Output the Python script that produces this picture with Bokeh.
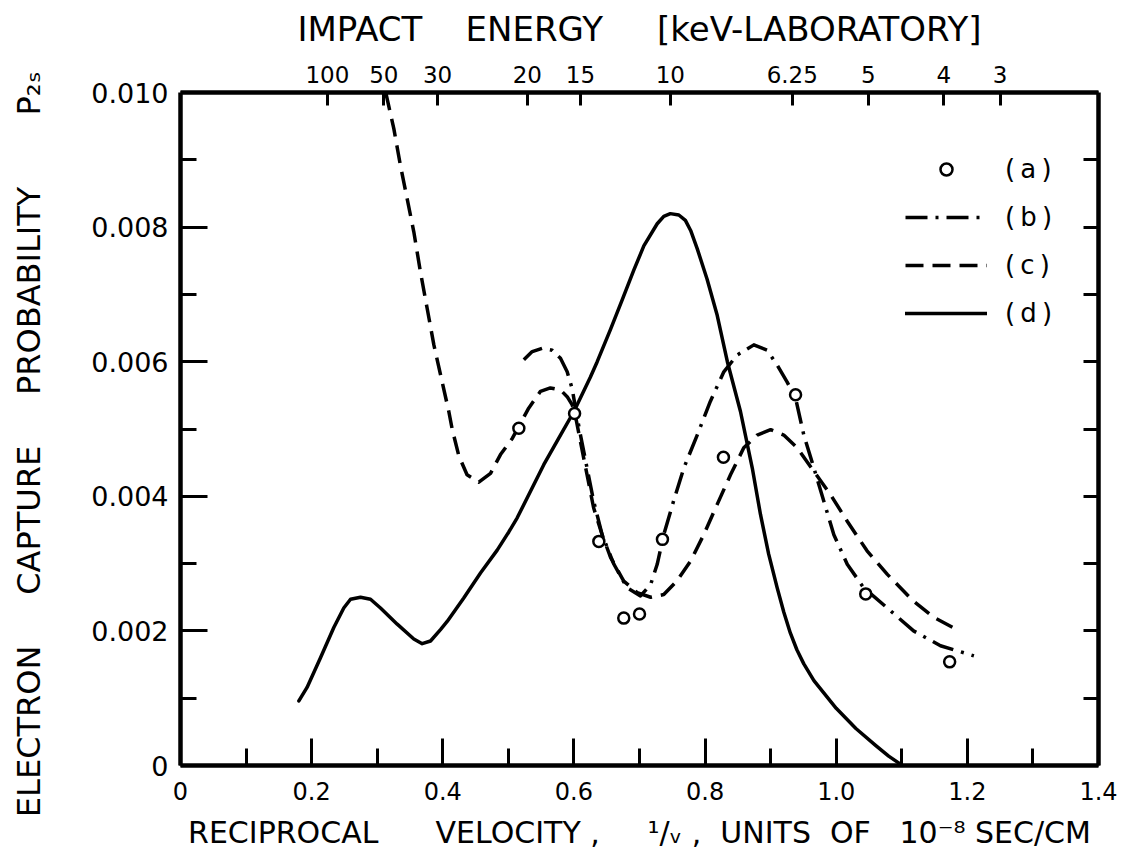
from bokeh.plotting import figure
from bokeh.models import LinearAxis, FixedTicker, Range1d, Legend, LegendItem
from bokeh.embed import file_html
from bokeh.resources import INLINE

# (a) measured points
a_x = [0.516, 0.601, 0.638, 0.676, 0.700, 0.735, 0.828, 0.938, 1.045, 1.173]
a_y = [0.00501, 0.00523, 0.00333, 0.00219, 0.00225, 0.00336, 0.00458, 0.00551, 0.00255, 0.00154]

# (b) dash-dot curve
b_x = [0.5236, 0.5364, 0.5516, 0.5669, 0.5795, 0.5897, 0.5973, 0.6024, 0.610, 0.620,
       0.630, 0.643, 0.661, 0.681, 0.7015, 0.717, 0.727, 0.737, 0.752, 0.7676, 0.788,
       0.808, 0.8286, 0.849, 0.8744, 0.8947, 0.910, 0.925, 0.938, 0.9506, 0.966, 0.981,
       0.9964, 1.0168, 1.042, 1.078, 1.118, 1.159, 1.210]
b_y = [0.00603, 0.00615, 0.00620, 0.00617, 0.00605, 0.00585, 0.00560, 0.00531, 0.00491,
       0.00442, 0.00393, 0.00343, 0.00299, 0.00264, 0.00252, 0.00269, 0.00299, 0.00343,
       0.00393, 0.00442, 0.00491, 0.00541, 0.00585, 0.00610, 0.00625, 0.00617, 0.00595,
       0.00570, 0.00546, 0.00491, 0.00442, 0.00393, 0.00343, 0.00299, 0.00264, 0.00234,
       0.00200, 0.00178, 0.00163]

# (c) dashed curve
c_x = [0.313, 0.3254, 0.3355, 0.3457, 0.3558, 0.366, 0.3762, 0.3864, 0.399, 0.4092,
       0.4143, 0.4245, 0.437, 0.455, 0.4728, 0.488, 0.506, 0.531, 0.549, 0.564, 0.5795,
       0.5897, 0.5973, 0.6024, 0.610, 0.620, 0.630, 0.643, 0.656, 0.676, 0.6965, 0.717,
       0.737, 0.757, 0.778, 0.798, 0.8185, 0.8388, 0.859, 0.8795, 0.900, 0.920, 0.9405,
       0.966, 0.991, 1.0168, 1.047, 1.078, 1.118, 1.149, 1.182]
c_y = [0.01000, 0.00946, 0.00891, 0.00842, 0.00793, 0.00733, 0.00679, 0.00625, 0.00570,
       0.00526, 0.00500, 0.00460, 0.00432, 0.00421, 0.00434, 0.00462, 0.00486, 0.00531,
       0.00556, 0.00561, 0.00558, 0.00548, 0.00536, 0.00519, 0.00481, 0.00432, 0.00383,
       0.00343, 0.00309, 0.00274, 0.00257, 0.00250, 0.00254, 0.00274, 0.00304, 0.00343,
       0.00388, 0.00432, 0.00472, 0.00491, 0.00499, 0.00491, 0.00472, 0.00437, 0.00403,
       0.00363, 0.00319, 0.00284, 0.00244, 0.00220, 0.00203]

# (d) solid curve
d_x = [0.1805, 0.193, 0.2135, 0.2338, 0.249, 0.2593, 0.2745, 0.2898, 0.305, 0.3305,
       0.3558, 0.3686, 0.3813, 0.3965, 0.4067, 0.432, 0.4575, 0.483, 0.5007, 0.5135,
       0.554, 0.5795, 0.600, 0.625, 0.6355, 0.6558, 0.6736, 0.6913, 0.7066, 0.727,
       0.737, 0.747, 0.760, 0.770, 0.778, 0.788, 0.803, 0.8185, 0.834, 0.854, 0.872,
       0.8845, 0.897, 0.910, 0.920, 0.930, 0.940, 0.9506, 0.966, 1.000, 1.030, 1.060,
       1.080, 1.098]
d_y = [0.00096, 0.00116, 0.00160, 0.00205, 0.00234, 0.00247, 0.00250, 0.00247, 0.00234,
       0.00210, 0.00188, 0.00181, 0.00185, 0.00202, 0.00214, 0.00249, 0.00286, 0.00320,
       0.00347, 0.00368, 0.00447, 0.00491, 0.00526, 0.00577, 0.00600, 0.00648, 0.00692,
       0.00736, 0.00772, 0.00805, 0.00816, 0.00820, 0.00818, 0.00810, 0.00795, 0.00768,
       0.00723, 0.00669, 0.00600, 0.00526, 0.00442, 0.00373, 0.00314, 0.00264, 0.00228,
       0.00197, 0.00172, 0.00151, 0.00126, 0.00085, 0.00055, 0.00030, 0.00014, 0.00002]

# axis ticks and labels
x_ticks = [0, 0.2, 0.4, 0.6, 0.8, 1.0, 1.2, 1.4]
x_tick_labels = ["0", "0.2", "0.4", "0.6", "0.8", "1.0", "1.2", "1.4"]
y_ticks = [0, 0.002, 0.004, 0.006, 0.008, 0.010]
y_tick_labels = ["0", "0.002", "0.004", "0.006", "0.008", "0.010"]

# impact energy scale (keV) along the top edge
energy_pos = [0.224, 0.31, 0.392, 0.529, 0.61, 0.747, 0.933, 1.049, 1.164, 1.25]
energy_labels = ["100", "50", "30", "20", "15", "10", "6.25", "5", "4", "3"]

FONT = "DejaVu Sans"
NB = "\u00a0"

p = figure(width=1140, height=866,
           x_range=Range1d(0, 1.4), y_range=Range1d(0, 0.010),
           output_backend="svg", toolbar_location=None,
           min_border_left=180, min_border_right=42,
           min_border_top=92, min_border_bottom=101,
           background_fill_color="white", border_fill_color="white")
p.outline_line_color = None
p.grid.visible = False


def style_axis(ax, tick_in, minor_in, label_size):
    ax.axis_line_width = 4.5
    ax.axis_line_color = "black"
    ax.major_tick_in = tick_in
    ax.major_tick_out = 0
    ax.minor_tick_in = minor_in
    ax.minor_tick_out = 0
    ax.major_tick_line_width = 3
    ax.minor_tick_line_width = 3
    ax.major_label_text_font = FONT
    ax.major_label_text_font_size = label_size
    ax.major_label_text_color = "black"
    ax.axis_label_text_font = FONT
    ax.axis_label_text_font_style = "normal"
    ax.axis_label_text_color = "black"


# bottom axis
xb = p.xaxis[0]
xb.ticker = FixedTicker(ticks=x_ticks, minor_ticks=[0.1, 0.3, 0.5, 0.7, 0.9, 1.1, 1.3])
xb.major_label_overrides = dict(zip(x_ticks, x_tick_labels))
style_axis(xb, 27, 17, "24px")
xb.major_label_standoff = 16
xb.axis_label = ("RECIPROCAL" + NB * 6 + "VELOCITY" + NB + "," + NB * 5 + "\u00b9/\u1d65" + NB + ","
                 + NB * 2 + "UNITS" + NB * 2 + "OF" + NB * 3 + "10\u207b\u2078" + NB + "SEC/CM")
xb.axis_label_text_font_size = "30px"
xb.axis_label_standoff = 12

# left axis
yl = p.yaxis[0]
yl.ticker = FixedTicker(ticks=y_ticks, minor_ticks=[0.001, 0.003, 0.005, 0.007, 0.009])
yl.major_label_overrides = dict(zip(y_ticks, y_tick_labels))
style_axis(yl, 27, 16, "27px")
yl.major_label_standoff = 12
yl.axis_label = ("ELECTRON" + NB * 5 + "CAPTURE" + NB * 5 + "PROBABILITY" + NB * 7 + "P\u2082\u209b"
                 + NB * 3)
yl.axis_label_text_font_size = "32px"
yl.axis_label_standoff = 40

# right axis (ticks only)
yr = LinearAxis(ticker=FixedTicker(ticks=y_ticks, minor_ticks=[0.001, 0.003, 0.005, 0.007, 0.009]))
style_axis(yr, 15, 15, "12px")
yr.major_label_overrides = {t: "" for t in y_ticks}
yr.major_label_standoff = 0
p.add_layout(yr, "right")

# top axis: impact energy
xt = LinearAxis(ticker=FixedTicker(ticks=energy_pos))
xt.major_label_overrides = dict(zip(energy_pos, energy_labels))
style_axis(xt, 13, 0, "23px")
xt.major_label_standoff = 10
xt.axis_label = "IMPACT" + NB * 4 + "ENERGY" + NB * 5 + "[keV-LABORATORY]"
xt.axis_label_text_font_size = "34px"
xt.axis_label_standoff = 14
p.add_layout(xt, "above")

# curves and points
rd = p.line(d_x, d_y, line_color="black", line_width=3.5, line_join="round", line_cap="round")
rc = p.line(c_x, c_y, line_color="black", line_width=3.5, line_join="round", line_dash="18 9")
rb = p.line(b_x, b_y, line_color="black", line_width=3.5, line_join="round", line_dash="22 8 3 8")
ra = p.scatter(a_x, a_y, marker="circle", size=11, fill_color="white",
               line_color="black", line_width=2.5)

legend = Legend(items=[
    LegendItem(label="(\u2009a\u2009)", renderers=[ra]),
    LegendItem(label="(\u2009b\u2009)", renderers=[rb]),
    LegendItem(label="(\u2009c\u2009)", renderers=[rc]),
    LegendItem(label="(\u2009d\u2009)", renderers=[rd]),
], location=(725, 437))
legend.glyph_width = 82
legend.glyph_height = 30
legend.label_height = 30
legend.spacing = 18
legend.padding = 0
legend.margin = 0
legend.label_standoff = 18
legend.border_line_color = None
legend.background_fill_alpha = 0
legend.label_text_font = FONT
legend.label_text_font_size = "26px"
legend.label_text_color = "black"
p.add_layout(legend)

open("out.html", "w").write(file_html(p, INLINE))
